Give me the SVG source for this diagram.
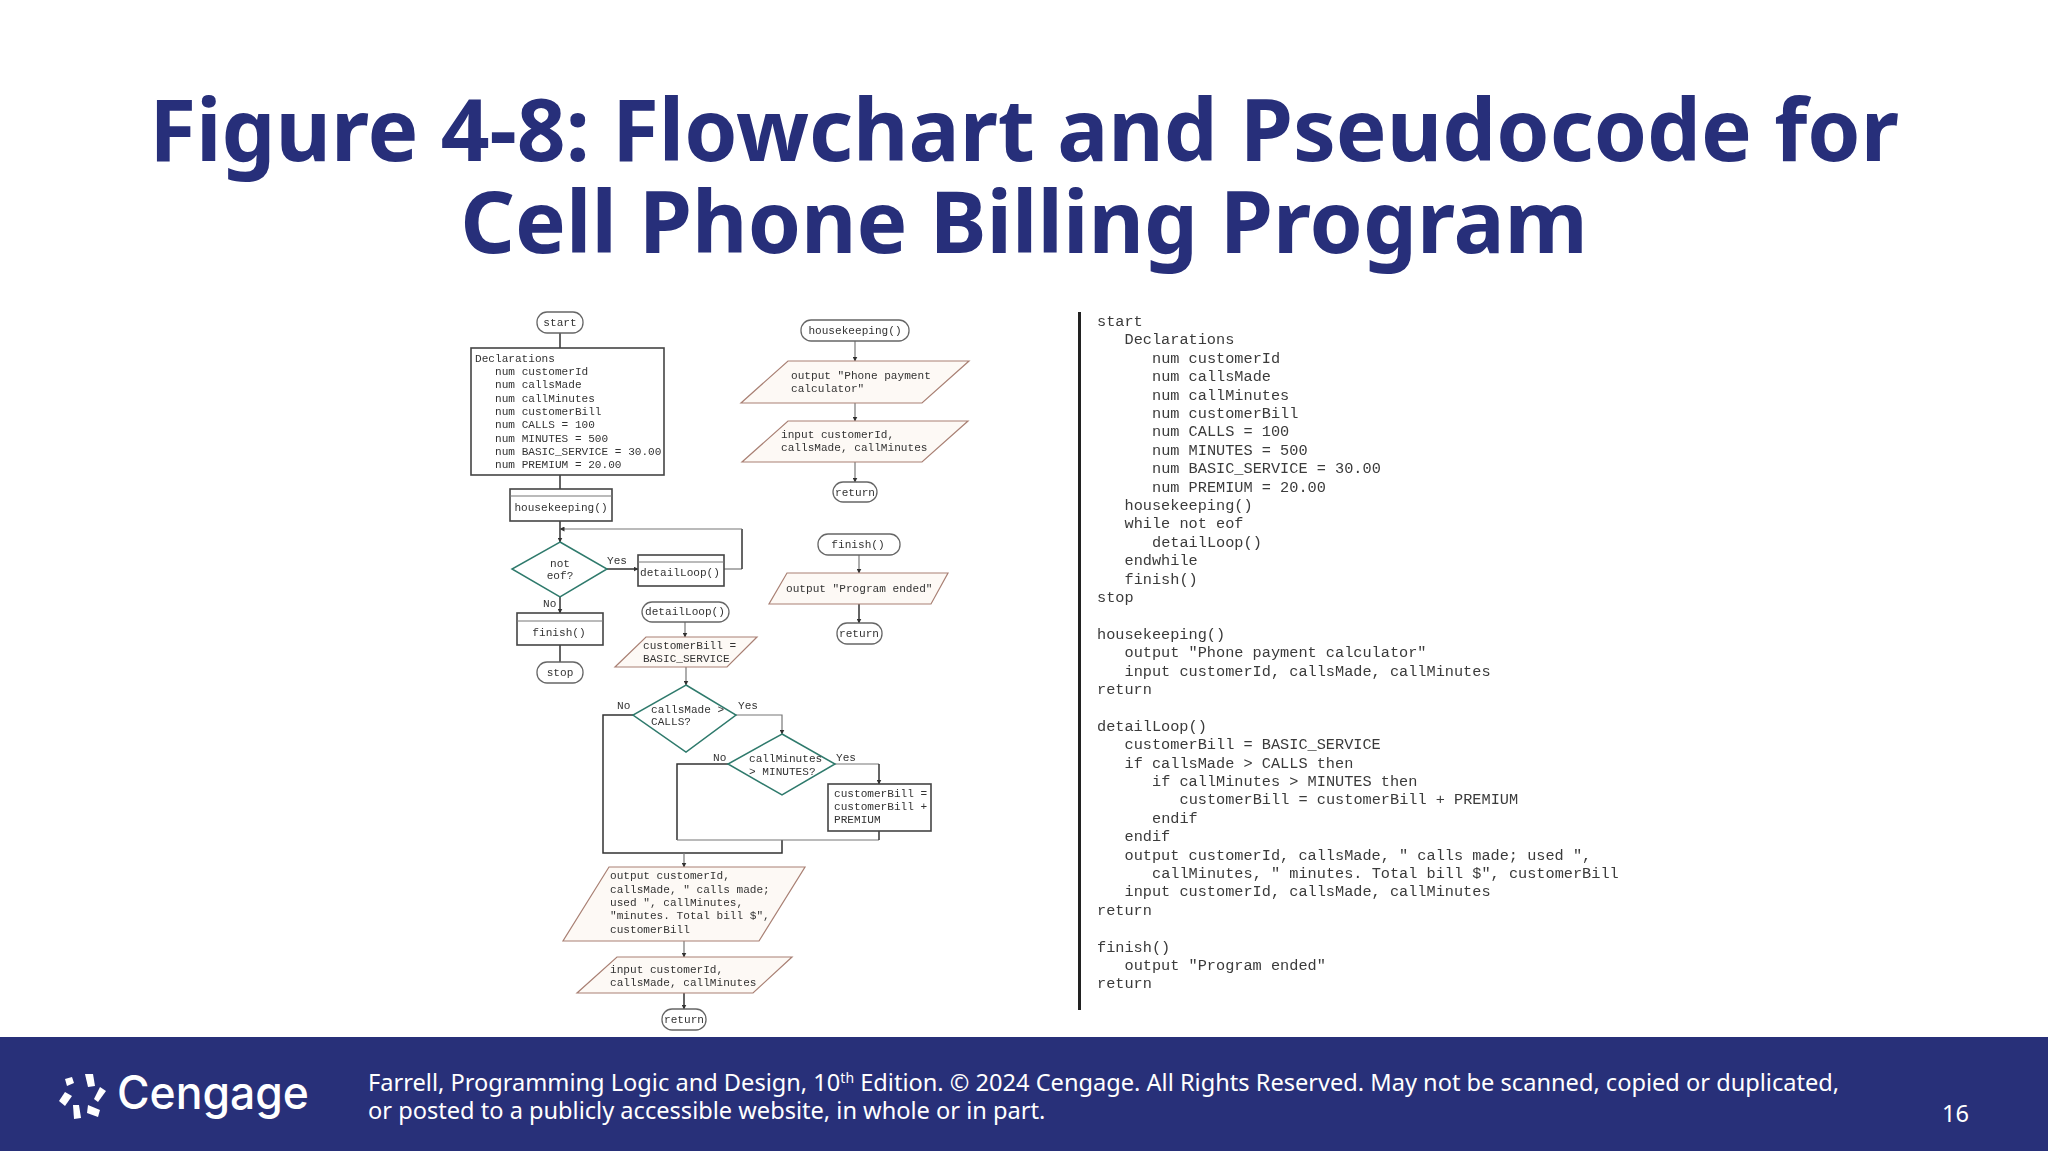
<svg xmlns="http://www.w3.org/2000/svg" width="2048" height="1152" viewBox="0 0 2048 1152">
<style>
.title{font-family:"Noto Sans",sans-serif;font-weight:700;font-size:85.400px;fill:#272f7a;text-anchor:middle}
.foot{font-family:"Noto Sans",sans-serif;font-size:23.600px;fill:#fff}
.t{font-family:"Liberation Mono",monospace;font-size:11.1px;fill:#333}
.m{text-anchor:middle}
.code{font-family:"Liberation Mono",monospace;font-size:15.25px;fill:#3a3a3a}
.box{fill:#fff;stroke:#444;stroke-width:1.6}
.term{fill:#fff;stroke:#666;stroke-width:1.3}
.dia{fill:#fff;stroke:#2f7a6c;stroke-width:1.5}
.par{fill:#fdf9f5;stroke:#a98074;stroke-width:1.2}
.con{fill:none;stroke:#333;stroke-width:1.5}
.lite{fill:none;stroke:#777;stroke-width:1.2}
</style>
<defs>
<filter id="soft" filterUnits="userSpaceOnUse" x="440" y="290" width="1240" height="745"><feGaussianBlur stdDeviation="0.65"/></filter>
<marker id="arr" markerWidth="5" markerHeight="5" refX="4.5" refY="2.5" orient="auto" markerUnits="userSpaceOnUse"><path d="M0 0L5 2.5L0 5Z" fill="#333"/></marker>
</defs>
<rect width="2048" height="1152" fill="#fff"/>
<g id="title">
<text class="title" x="1024" y="161">Figure 4-8: Flowchart and Pseudocode for</text>
<text class="title" x="1024" y="253">Cell Phone Billing Program</text>
</g>
<g filter="url(#soft)">
<g id="connectors">
<path class="con" d="M560 333V348"/><path class="con" d="M560 475V489"/>
<path class="con" marker-end="url(#arr)" d="M560 521V542"/>
<path class="lite" d="M724 569H742"/><path class="con" d="M742 569V529"/><path class="lite" marker-end="url(#arr)" d="M742 529H560"/>
<path class="con" marker-end="url(#arr)" d="M607 569H638"/>
<path class="con" marker-end="url(#arr)" d="M560 597V613"/>
<path class="con" d="M560 645V662"/>
<path class="lite" marker-end="url(#arr)" d="M685 622V637"/>
<path class="lite" marker-end="url(#arr)" d="M686 667V685"/>
<path class="con" d="M633 715H603V853H782V840"/>
<path class="lite" marker-end="url(#arr)" d="M736 715H782V734"/>
<path class="con" d="M728 764H677V840"/><path class="lite" d="M677 840H879"/>
<path class="lite" d="M835 764H879"/><path class="con" marker-end="url(#arr)" d="M879 764V784"/>
<path class="con" d="M879 831V840"/>
<path class="lite" marker-end="url(#arr)" d="M684 853V867"/>
<path class="lite" marker-end="url(#arr)" d="M684 941V957"/>
<path class="con" marker-end="url(#arr)" d="M684 993V1009"/>
<path class="lite" marker-end="url(#arr)" d="M855 341V361"/>
<path class="lite" marker-end="url(#arr)" d="M855 403V421"/>
<path class="lite" marker-end="url(#arr)" d="M855 462V482"/>
<path class="lite" marker-end="url(#arr)" d="M859 555V573"/>
<path class="con" marker-end="url(#arr)" d="M859 604V623"/>
</g>
<g id="n-start"><rect class="term" x="537" y="312" width="46" height="21" rx="10"/><text class="t m" x="560" y="326">start</text></g>
<g id="n-declarations"><rect class="box" x="471" y="348" width="193" height="127"/>
<text class="t" x="475" y="362">Declarations</text>
<text class="t" x="495" y="375">num customerId</text>
<text class="t" x="495" y="388">num callsMade</text>
<text class="t" x="495" y="402">num callMinutes</text>
<text class="t" x="495" y="415">num customerBill</text>
<text class="t" x="495" y="428">num CALLS = 100</text>
<text class="t" x="495" y="442">num MINUTES = 500</text>
<text class="t" x="495" y="455">num BASIC_SERVICE = 30.00</text>
<text class="t" x="495" y="468">num PREMIUM = 20.00</text></g>
<g id="n-housekeeping-call"><rect class="box" x="510" y="489" width="102" height="32"/><path class="lite" d="M510 496H612"/><text class="t m" x="561" y="511">housekeeping()</text></g>
<g id="n-not-eof"><path class="dia" d="M560 542L607 569L560 597L512 569Z"/><text class="t m" x="560" y="567">not</text><text class="t m" x="560" y="579">eof?</text><text class="t" x="607" y="564">Yes</text><text class="t" x="543" y="607">No</text></g>
<g id="n-detailloop-call"><rect class="box" x="638" y="555" width="86" height="31"/><path class="lite" d="M638 562H724"/><text class="t m" x="680" y="576">detailLoop()</text></g>
<g id="n-finish-call"><rect class="box" x="517" y="613" width="86" height="32"/><path class="lite" d="M517 621H603"/><text class="t m" x="559" y="636">finish()</text></g>
<g id="n-stop"><rect class="term" x="537" y="662" width="46" height="21" rx="10"/><text class="t m" x="560" y="676">stop</text></g>
<g id="n-detailloop"><rect class="term" x="642" y="602" width="87" height="20" rx="10"/><text class="t m" x="685" y="615">detailLoop()</text></g>
<g id="n-bill"><path class="par" d="M646 637H757L727 667H615Z"/><text class="t" x="643" y="649">customerBill =</text><text class="t" x="643" y="662">BASIC_SERVICE</text></g>
<g id="n-calls"><path class="dia" d="M686 685L736 715L686 752L633 715Z"/><text class="t" x="651" y="713">callsMade &gt;</text><text class="t" x="651" y="725">CALLS?</text><text class="t" x="617" y="709">No</text><text class="t" x="738" y="709">Yes</text></g>
<g id="n-minutes"><path class="dia" d="M782 734L835 764L782 795L728 764Z"/><text class="t" x="749" y="762">callMinutes</text><text class="t" x="749" y="775">&gt; MINUTES?</text><text class="t" x="713" y="761">No</text><text class="t" x="836" y="761">Yes</text></g>
<g id="n-premium"><rect class="box" x="828" y="784" width="103" height="47"/><text class="t" x="834" y="797">customerBill =</text><text class="t" x="834" y="810">customerBill +</text><text class="t" x="834" y="823">PREMIUM</text></g>
<g id="n-output"><path class="par" d="M609 867H805L759 941H563Z"/>
<text class="t" x="610" y="879">output customerId,</text>
<text class="t" x="610" y="893">callsMade, " calls made;</text>
<text class="t" x="610" y="906">used ", callMinutes,</text>
<text class="t" x="610" y="919">"minutes. Total bill $",</text>
<text class="t" x="610" y="933">customerBill</text></g>
<g id="n-input"><path class="par" d="M617 957H792L753 993H577Z"/><text class="t" x="610" y="973">input customerId,</text><text class="t" x="610" y="986">callsMade, callMinutes</text></g>
<g id="n-return1"><rect class="term" x="662" y="1009" width="44" height="21" rx="10"/><text class="t m" x="684" y="1023">return</text></g>
<g id="n-housekeeping"><rect class="term" x="801" y="320" width="108" height="21" rx="10"/><text class="t m" x="855" y="334">housekeeping()</text></g>
<g id="n-output-hk"><path class="par" d="M788 361H969L922 403H741Z"/><text class="t" x="791" y="379">output "Phone payment</text><text class="t" x="791" y="392">calculator"</text></g>
<g id="n-input-hk"><path class="par" d="M788 421H968L922 462H742Z"/><text class="t" x="781" y="438">input customerId,</text><text class="t" x="781" y="451">callsMade, callMinutes</text></g>
<g id="n-return2"><rect class="term" x="833" y="482" width="44" height="20" rx="10"/><text class="t m" x="855" y="496">return</text></g>
<g id="n-finish"><rect class="term" x="818" y="534" width="82" height="21" rx="10"/><text class="t m" x="858" y="548">finish()</text></g>
<g id="n-output-finish"><path class="par" d="M787 573H948L931 604H769Z"/><text class="t" x="786" y="592">output "Program ended"</text></g>
<g id="n-return3"><rect class="term" x="837" y="623" width="45" height="21" rx="10"/><text class="t m" x="859" y="637">return</text></g>
<g id="pseudocode">
<path d="M1079.500 312V1010" stroke="#222" stroke-width="3" fill="none"/>
<text class="code" x="1097" y="326">start</text>
<text class="code" x="1124.500" y="344.400">Declarations</text>
<text class="code" x="1152" y="362.800">num customerId</text>
<text class="code" x="1152" y="381.200">num callsMade</text>
<text class="code" x="1152" y="399.600">num callMinutes</text>
<text class="code" x="1152" y="418">num customerBill</text>
<text class="code" x="1152" y="436.400">num CALLS = 100</text>
<text class="code" x="1152" y="454.800">num MINUTES = 500</text>
<text class="code" x="1152" y="473.200">num BASIC_SERVICE = 30.00</text>
<text class="code" x="1152" y="491.600">num PREMIUM = 20.00</text>
<text class="code" x="1124.500" y="510">housekeeping()</text>
<text class="code" x="1124.500" y="528.400">while not eof</text>
<text class="code" x="1152" y="546.800">detailLoop()</text>
<text class="code" x="1124.500" y="565.200">endwhile</text>
<text class="code" x="1124.500" y="583.600">finish()</text>
<text class="code" x="1097" y="602">stop</text>
<text class="code" x="1097" y="638.800">housekeeping()</text>
<text class="code" x="1124.500" y="657.200">output "Phone payment calculator"</text>
<text class="code" x="1124.500" y="675.600">input customerId, callsMade, callMinutes</text>
<text class="code" x="1097" y="694">return</text>
<text class="code" x="1097" y="730.800">detailLoop()</text>
<text class="code" x="1124.500" y="749.200">customerBill = BASIC_SERVICE</text>
<text class="code" x="1124.500" y="767.600">if callsMade &gt; CALLS then</text>
<text class="code" x="1152" y="786">if callMinutes &gt; MINUTES then</text>
<text class="code" x="1179.500" y="804.400">customerBill = customerBill + PREMIUM</text>
<text class="code" x="1152" y="822.800">endif</text>
<text class="code" x="1124.500" y="841.200">endif</text>
<text class="code" x="1124.500" y="859.600">output customerId, callsMade, " calls made; used ",</text>
<text class="code" x="1152" y="878">callMinutes, " minutes. Total bill $", customerBill</text>
<text class="code" x="1124.500" y="896.400">input customerId, callsMade, callMinutes</text>
<text class="code" x="1097" y="914.800">return</text>
<text class="code" x="1097" y="951.600">finish()</text>
<text class="code" x="1124.500" y="970">output "Program ended"</text>
<text class="code" x="1097" y="988.400">return</text>
</g>
</g>
<g id="footer">
<rect x="0" y="1037" width="2048" height="114" fill="#283079"/>
<g id="logo" fill="#fff">
<path d="M65 1079L72 1077L74 1083L67 1086Z"/>
<path d="M85 1074L93 1074L95 1086L88 1087Z"/>
<path d="M100 1087L106 1091L98 1102L94 1099Z"/>
<path d="M65 1092L72 1096L65 1106L59 1101Z"/>
<path d="M73 1105L79 1105L81 1118L74 1119Z"/>
<path d="M88 1105L100 1110L98 1117L87 1113Z"/>
<text x="117" y="1109" font-family="Inter,sans-serif" font-size="46" font-weight="500" textLength="192" lengthAdjust="spacingAndGlyphs">Cengage</text>
</g>
<text class="foot" x="368" y="1091">Farrell, Programming Logic and Design, 10<tspan font-size="14" dy="-8">th</tspan><tspan dy="8"> Edition. © 2024 Cengage. All Rights Reserved. May not be scanned, copied or duplicated,</tspan></text>
<text class="foot" x="368" y="1119">or posted to a publicly accessible website, in whole or in part.</text>
<text class="foot" x="1942" y="1122">16</text>
</g>
</svg>
